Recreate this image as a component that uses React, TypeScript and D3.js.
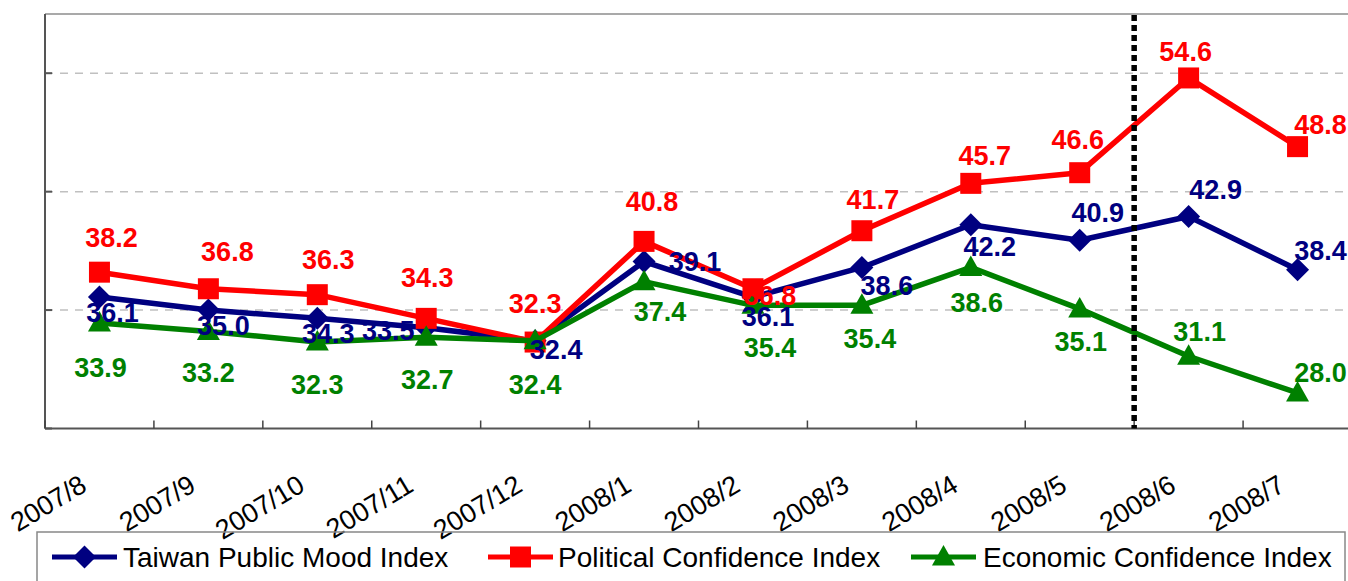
import React, { useEffect } from 'react'
import * as d3 from 'd3'

const categories = ['2007/8', '2007/9', '2007/10', '2007/11', '2007/12', '2008/1', '2008/2', '2008/3', '2008/4', '2008/5', '2008/6', '2008/7']
const moodValues = [36.1, 35.0, 34.3, 33.5, 32.4, 39.1, 36.1, 38.6, 42.2, 40.9, 42.9, 38.4]
const politicalValues = [38.2, 36.8, 36.3, 34.3, 32.3, 40.8, 36.8, 41.7, 45.7, 46.6, 54.6, 48.8]
const economicValues = [33.9, 33.2, 32.3, 32.7, 32.4, 37.4, 35.4, 35.4, 38.6, 35.1, 31.1, 28.0]
const yTicks = [25, 35, 45, 55]
const splitAfter = '2008/5'

// label placement (offset of label centre from its point), style only
const moodLabelOffsets = [[13, 15], [15, 15], [11, 15], [-38, 3], [21, 9], [51, 0], [15, 19], [25, 18], [19, 22], [18, -28], [27, -27], [23, -19]]
const politicalLabelOffsets = [[12, -35], [19, -37], [11, -35], [1, -41], [0, -39], [8, -40], [17, 7], [11, -31], [14, -28], [-2, -33], [-3, -26], [23, -22]]
const economicLabelOffsets = [[1, 44], [0, 41], [0, 42], [1, 42], [0, 44], [16, 30], [17, 42], [8, 33], [6, 35], [1, 33], [11, -25], [23, -20]]

const FONT = '"Liberation Sans", Arial, sans-serif'
const W = 1348
const H = 581
const margin = { left: 45, right: -4, top: 14, bottom: 152 }

const series = [
  { name: 'Taiwan Public Mood Index', values: moodValues, color: '#000080', marker: 'diamond', offsets: moodLabelOffsets },
  { name: 'Political Confidence Index', values: politicalValues, color: '#ff0000', marker: 'square', offsets: politicalLabelOffsets },
  { name: 'Economic Confidence Index', values: economicValues, color: '#008000', marker: 'triangle', offsets: economicLabelOffsets }
]

function markerPath(kind: string) {
  if (kind === 'diamond') return 'M0,-11.5L11.5,0L0,11.5L-11.5,0Z'
  if (kind === 'square') return 'M-10.5,-10.5H10.5V10.5H-10.5Z'
  return 'M0,-12L11.5,8.5H-11.5Z'
}

function App() {
  useEffect(() => {
    document.body.style.margin = '0'
  }, [])

  const x = d3.scaleBand()
    .domain(categories)
    .range([margin.left, W - margin.right])
  const y = d3.scaleLinear()
    .domain([25, 60])
    .range([H - margin.bottom - 0.5, margin.top])

  const line = d3.line<number>()
    .x((d, i) => x(categories[i])! + x.bandwidth() / 2)
    .y(d => y(d))

  const bottom = y(25)
  const splitX = x(splitAfter)! + x.bandwidth()
  const boundaries = categories.map(c => x(c)!)

  const legendY = 557
  const legendItems = [
    { x0: 52, tx: 123 },
    { x0: 488, tx: 558 },
    { x0: 911, tx: 983 }
  ]

  return (
    <svg width={W} height={H} style={{ display: 'block' }} fontFamily={FONT}>
      <rect width={W} height={H} fill="#fff" />
      {/* grid */}
      {yTicks.slice(1).map(t => (
        <line key={t} x1={margin.left} x2={W} y1={y(t)} y2={y(t)}
          stroke="#c0c0c0" strokeWidth={1.5} strokeDasharray="8,7" />
      ))}
      {/* frame */}
      <line x1={margin.left} x2={W} y1={margin.top} y2={margin.top} stroke="#8c8c8c" strokeWidth={1.5} />
      <line x1={margin.left} x2={margin.left} y1={margin.top} y2={bottom} stroke="#555" strokeWidth={2} />
      <line x1={margin.left} x2={W} y1={bottom} y2={bottom} stroke="#555" strokeWidth={2} />
      {yTicks.map(t => (
        <line key={t} x1={margin.left} x2={margin.left + 7} y1={y(t)} y2={y(t)} stroke="#555" strokeWidth={2} />
      ))}
      {boundaries.map((bx, i) => (
        <line key={i} x1={bx} x2={bx} y1={bottom} y2={bottom - 8} stroke="#444" strokeWidth={1.5} />
      ))}
      {/* tick labels */}
      {categories.map(c => {
        const tx = x(c)! + x.bandwidth() / 2 - 11
        const ty = 490
        return (
          <text key={c} x={tx} y={ty} textAnchor="end" fontSize={27}
            transform={`rotate(-31, ${tx}, ${ty})`} fill="#000">{c}</text>
        )
      })}
      {/* series */}
      {series.map(s => (
        <g key={s.name}>
          <path d={line(s.values)!} fill="none" stroke={s.color} strokeWidth={5.5} strokeLinejoin="round" />
          {s.values.map((v, i) => (
            <path key={i} d={markerPath(s.marker)} fill={s.color}
              transform={`translate(${x(categories[i])! + x.bandwidth() / 2}, ${y(v)})`} />
          ))}
        </g>
      ))}
      {/* split line */}
      <line x1={splitX} x2={splitX} y1={margin.top + 1} y2={bottom} stroke="#000" strokeWidth={5.5} strokeDasharray="6,4" />
      {/* data labels */}
      {series.map(s => (
        <g key={s.name} fill={s.color} fontSize={27} fontWeight="bold" textAnchor="middle">
          {s.values.map((v, i) => (
            <text key={i} x={x(categories[i])! + x.bandwidth() / 2 + s.offsets[i][0]} y={y(v) + s.offsets[i][1] + 9.5}>
              {v.toFixed(1)}
            </text>
          ))}
        </g>
      ))}
      {/* legend */}
      <rect x={37} y={532} width={1308} height={80} fill="none" stroke="#888" strokeWidth={1.5} />
      {series.map((s, i) => {
        const it = legendItems[i]
        return (
          <g key={s.name}>
            <line x1={it.x0} x2={it.x0 + 65} y1={legendY} y2={legendY} stroke={s.color} strokeWidth={5} />
            <path d={markerPath(s.marker)} fill={s.color} transform={`translate(${it.x0 + 32.5}, ${legendY})`} />
            <text x={it.tx} y={legendY + 10} fontSize={28} fill="#000">{s.name}</text>
          </g>
        )
      })}
    </svg>
  )
}

export default App
